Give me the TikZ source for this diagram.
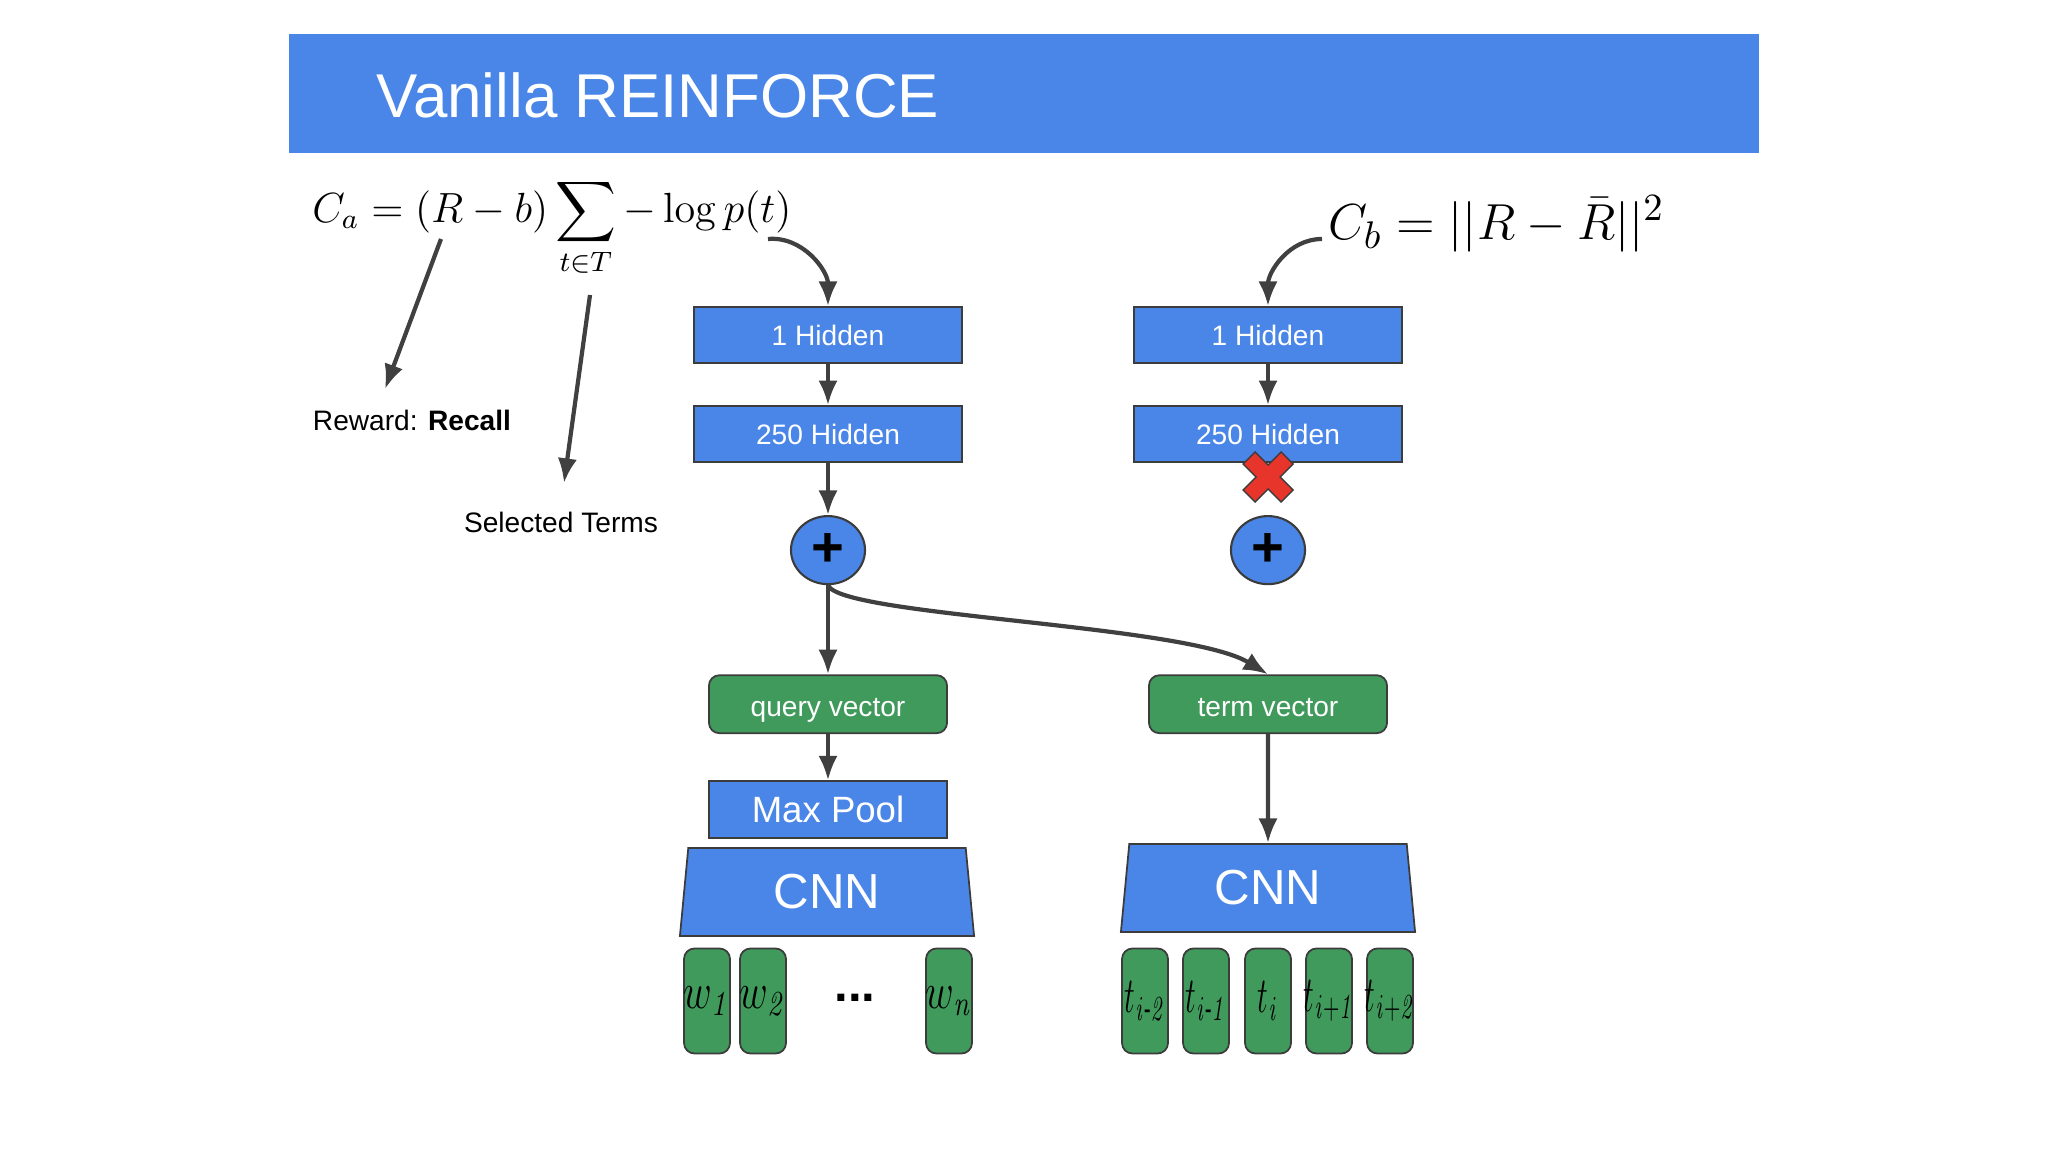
\documentclass[tikz,border=0pt]{standalone}
\usepackage{amsmath}
\usepackage[no-math]{fontspec}
\setmainfont{Liberation Sans}
\usetikzlibrary{arrows.meta,shapes.geometric,positioning}
\definecolor{gblue}{HTML}{4A86E8}
\definecolor{ggreen}{HTML}{409A5C}
\definecolor{edgegray}{HTML}{3C3C3C}
\definecolor{arrowgray}{HTML}{404040}
\definecolor{xred}{HTML}{E8352B}
\tikzstyle{hidden}=[rectangle,draw=edgegray,line width=0.5pt,fill=gblue,text=white,font=\fontsize{8}{10}\selectfont,minimum width=2.68cm,minimum height=0.56cm,inner sep=0pt]
\tikzstyle{vect}=[rectangle,rounded corners=3pt,draw=edgegray,line width=0.5pt,fill=ggreen,text=white,font=\fontsize{8}{10}\selectfont,minimum width=2.38cm,minimum height=0.58cm,inner sep=0pt,text height=1.6ex,text depth=0.3ex]
\tikzstyle{pool}=[hidden,minimum width=2.38cm,minimum height=0.57cm,font=\fontsize{10.4}{12}\selectfont]
\tikzstyle{cnn}=[trapezium,trapezium angle=76.5,trapezium stretches body,draw=edgegray,line width=0.5pt,fill=gblue,text=white,font=\fontsize{14}{16}\selectfont,minimum width=2.94cm,minimum height=0.88cm,inner sep=0pt]
\tikzstyle{plus}=[ellipse,draw=edgegray,line width=0.6pt,fill=gblue,minimum width=0.74cm,minimum height=0.68cm,inner sep=0pt,font=\bfseries\fontsize{16}{16}\selectfont]
\tikzstyle{word}=[rectangle,rounded corners=3pt,draw=edgegray,line width=0.5pt,fill=ggreen,minimum width=0.46cm,minimum height=1.05cm,inner sep=0pt,font=\fontsize{14}{14}\selectfont]
\tikzstyle{note}=[font=\fontsize{8}{10}\selectfont]
\tikzstyle{conn}=[-{Latex[length=7pt,width=5.5pt]},draw=arrowgray,line width=1.2pt]
\newcommand{\wtok}[1]{\makebox[0pt]{\raisebox{-0.5ex}{\scalebox{0.78}[1]{$w_{\mathit{#1}}$}}}}
\newcommand{\ttok}[1]{\makebox[0pt]{\raisebox{-0.3ex}{\scalebox{0.6}[1]{$t_{\mathit{#1}}$}}}}

\begin{document}
\begin{tikzpicture}[x=0.01cm,y=-0.01cm]
  \useasboundingbox (0,0) rectangle (2048,1152);
  % title bar
  \fill[gblue] (289,34) rectangle (1759,153);
  \node[anchor=base west,text=white,font=\fontsize{17.6}{21}\selectfont] (title) at (364,118) {Vanilla REINFORCE};
  % cost formulas
  \node[anchor=west,font=\fontsize{11.7}{14}\selectfont] (costa) at (300,228) {$\displaystyle C_a = (R-b)\sum_{t\in T} -\log p(t)$};
  \node[anchor=west,font=\fontsize{15.5}{18}\selectfont] (costb) at (1316,224) {$C_b = ||R-\bar{R}||^2$};
  \node[note] (reward) at (412,420) {Reward: \textbf{Recall}};
  \node[note] (selected) at (561,522) {Selected Terms};
  \coordinate (ra) at (441,239);
  \coordinate (rb) at (385,389);
  \coordinate (sa) at (590,295);
  \coordinate (sb) at (564,483);
  \coordinate (ca) at (768,239);
  \coordinate (cb) at (1322,239);
  % left column
  \node[hidden] (hidA1) at (828,335) {1 Hidden};
  \node[hidden,below of=hidA1,node distance=0.99cm] (hidA2) {250 Hidden};
  \node[plus,below of=hidA2,node distance=1.16cm] (sumA) {+};
  \node[vect,below of=sumA,node distance=1.54cm] (query) {query vector};
  \node[pool,below of=query,node distance=1.055cm] (maxpool) {Max Pool};
  \node[cnn] (cnnA) at (827,892) {CNN};
  \node[word] (w1) at (707,1001) {\wtok{1}};
  \node[word] (w2) at (763,1001) {\wtok{2}};
  \node[font=\bfseries\fontsize{14}{14}\selectfont] (dots) at (855,998) {...};
  \node[word] (wn) at (949,1001) {\wtok{n}};
  % right column
  \node[hidden] (hidB1) at (1268,335) {1 Hidden};
  \node[hidden,below of=hidB1,node distance=0.99cm] (hidB2) {250 Hidden};
  \node[plus,below of=hidB2,node distance=1.16cm] (sumB) {+};
  \node[vect,below of=sumB,node distance=1.54cm] (term) {term vector};
  \node[cnn] (cnnB) at (1268,888) {CNN};
  \node[word] (t1) at (1145,1001) {\ttok{i\text{-}2}};
  \node[word] (t2) at (1206,1001) {\ttok{i\text{-}1}};
  \node[word] (t3) at (1268,1001) {\ttok{i}};
  \node[word] (t4) at (1329,1001) {\ttok{i+1}};
  \node[word] (t5) at (1390,1001) {\ttok{i+2}};
  % red cross
  \filldraw[fill=xred,draw=edgegray,line width=0.4pt,shift={(1268,477)}]
    (12,0) -- (25,13) -- (13,25) -- (0,12) -- (-13,25) -- (-25,13) -- (-12,0)
    -- (-25,-13) -- (-13,-25) -- (0,-12) -- (13,-25) -- (25,-13) -- cycle;
  % connectors
  \draw[conn] (ra) -- (rb);
  \draw[conn] (sa) -- (sb);
  \draw[conn] (ca) to[out=5,in=90] (hidA1.north);
  \draw[conn] (cb) to[out=180,in=90] (hidB1.north);
  \draw[conn] (hidA1) -- (hidA2);
  \draw[conn] (hidA2) -- (sumA);
  \draw[conn] (sumA) -- (query);
  \draw[conn] (query) -- (maxpool);
  \draw[conn] (sumA.south) .. controls +(12,31) and +(-82,-50) .. (term.north);
  \draw[conn] (hidB1) -- (hidB2);
  \draw[conn] (term) -- (cnnB);
\end{tikzpicture}
\end{document}
